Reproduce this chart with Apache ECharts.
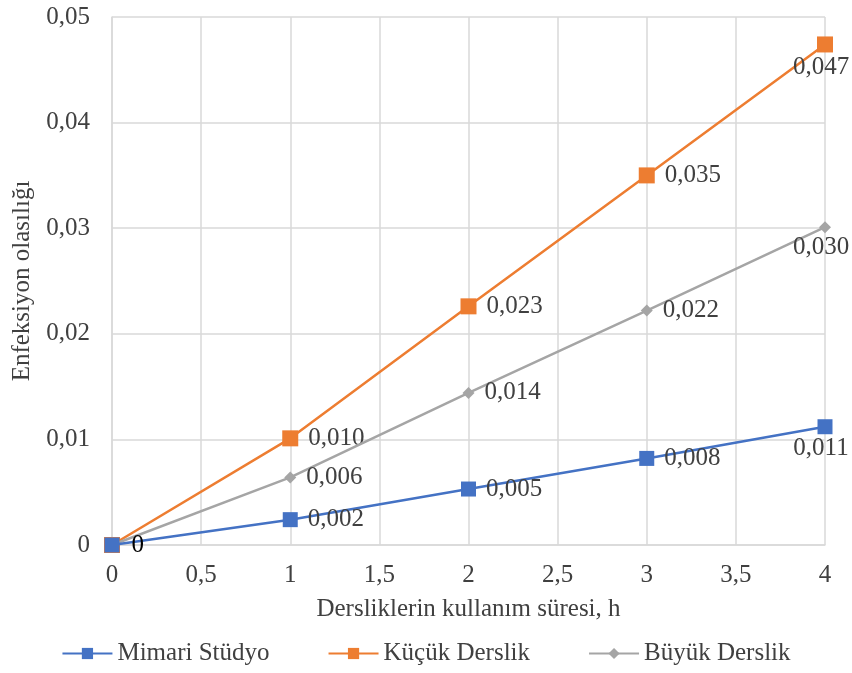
<!DOCTYPE html>
<html><head><meta charset="utf-8">
<script src="https://cdn.jsdelivr.net/npm/echarts@6/dist/echarts.min.js"></script>
<style>html,body{margin:0;padding:0;background:#fff}#c{width:852px;height:673px}</style>
</head><body><div id="c"></div>
<script>
const hours = [0, 1, 2, 3, 4];
const seriesNames = ['Mimari Stüdyo', 'Küçük Derslik', 'Büyük Derslik'];
const mimari = [0, 0.0024, 0.0053, 0.0082, 0.0112];
const kucuk = [0, 0.0101, 0.0226, 0.0350, 0.0474];
const buyuk = [0, 0.0064, 0.0144, 0.0222, 0.0301];
const xTicks = [0, 0.5, 1, 1.5, 2, 2.5, 3, 3.5, 4];
const yTicks = [0, 0.01, 0.02, 0.03, 0.04, 0.05];
const xTitle = 'Dersliklerin kullanım süresi, h';
const yTitle = 'Enfeksiyon olasılığı';

const FONT = '"Liberation Serif", "Times New Roman", serif';
const FS = 25;
const TXT = '#404040';
const comma = v => String(v).replace('.', ',');
const fmtLabel = v => v === 0 ? '0' : v.toFixed(3).replace('.', ',');

function mk(name, vals, color, symbol, size, z) {
  return {
    name, type: 'line', data: hours.map((h, i) => [h, vals[i]]),
    symbol, symbolSize: size, lineStyle: {color, width: 2.5}, itemStyle: {color},
    label: {
      show: true, fontFamily: FONT, fontSize: FS, color: TXT,
      formatter: p => (p.dataIndex === 0 && name !== seriesNames[0]) ? '' : fmtLabel(p.value[1]),
      position: 'right', distance: 10
    },
    z
  };
}
const s1 = mk(seriesNames[0], mimari, '#4472C4', 'rect', 15, 5);
const s2 = mk(seriesNames[1], kucuk, '#ED7D31', 'rect', 16, 3);
const s3 = mk(seriesNames[2], buyuk, '#A5A5A5', 'diamond', 12, 4);
[s1, s2, s3].forEach(s => {
  s.data = s.data.map((d, i) => i === 4 ? {value: d, label: {position: 'bottom', distance: 2, offset: [-4, 0]}} : d);
});
s1.data[0] = {value: s1.data[0], label: {position: 'right', distance: 12, color: '#000'}};

const chart = echarts.init(document.getElementById('c'));
chart.setOption({
  animation: false,
  grid: {left: 112, right: 27, top: 17, bottom: 128, containLabel: false, outerBoundsMode: 'none'},
  xAxis: {
    type: 'value', min: 0, max: 4, interval: 0.5,
    name: xTitle, nameLocation: 'middle', nameGap: 52,
    nameTextStyle: {fontFamily: FONT, fontSize: FS, color: TXT},
    axisLine: {show: true, lineStyle: {color: '#D9D9D9', width: 1.5}},
    axisTick: {show: false},
    axisLabel: {fontFamily: FONT, fontSize: FS, color: TXT, margin: 18, formatter: v => comma(v)},
    splitLine: {show: true, lineStyle: {color: '#D9D9D9', width: 1.5}}
  },
  yAxis: {
    type: 'value', min: 0, max: 0.05, interval: 0.01,
    name: yTitle, nameLocation: 'middle', nameGap: 76, nameRotate: 90,
    nameTextStyle: {fontFamily: FONT, fontSize: FS, color: TXT},
    axisLine: {show: true, lineStyle: {color: '#D9D9D9', width: 1.5}},
    axisTick: {show: false},
    axisLabel: {fontFamily: FONT, fontSize: FS, color: TXT, margin: 22, formatter: v => comma(v)},
    splitLine: {show: true, lineStyle: {color: '#D9D9D9', width: 1.5}}
  },
  legend: {
    bottom: 2, left: 'center', itemGap: 58, itemWidth: 50, itemHeight: 14,
    textStyle: {fontFamily: FONT, fontSize: FS, color: TXT},
    data: seriesNames
  },
  series: [s2, s3, s1]
});
</script></body></html>
